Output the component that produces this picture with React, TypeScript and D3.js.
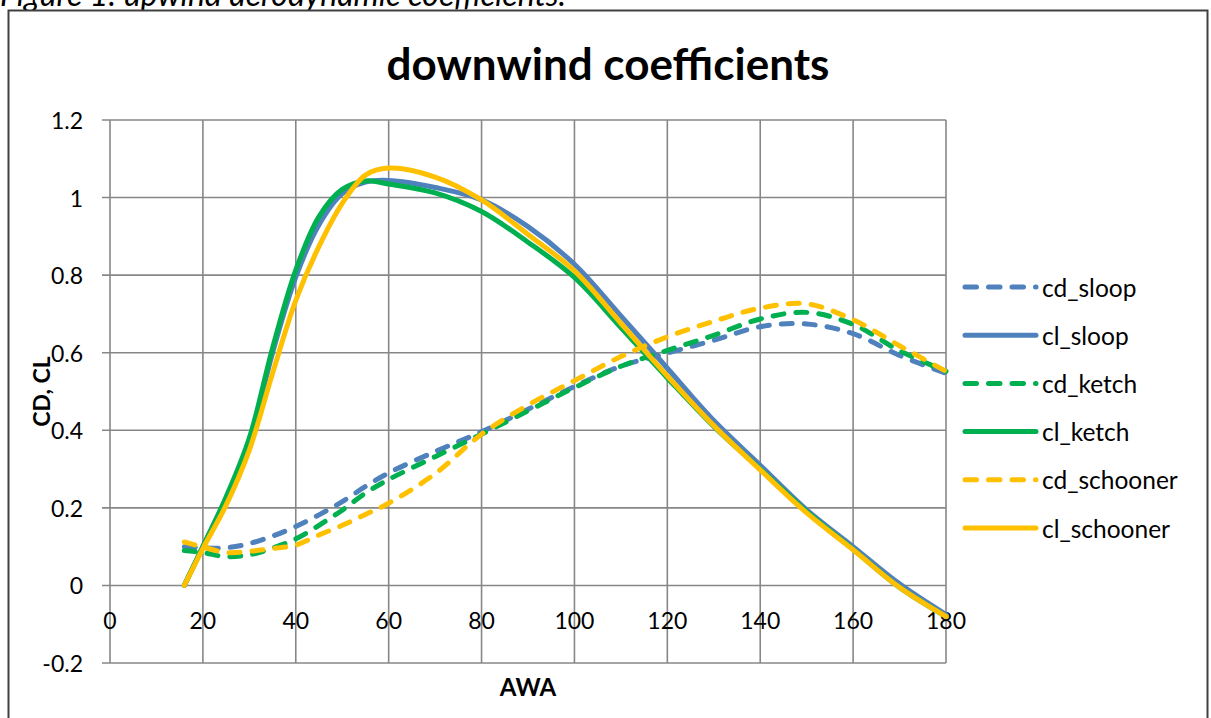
import React from "react";
import * as d3 from "d3";

const AWA = [16, 20, 25, 30, 35, 40, 45, 50, 55, 60, 70, 80, 90, 100, 110, 120, 130, 140, 150, 160, 170, 180];

const cdSloop = [0.1, 0.097, 0.097, 0.108, 0.127, 0.152, 0.182, 0.216, 0.255, 0.29, 0.345, 0.396, 0.454, 0.513, 0.565, 0.599, 0.632, 0.667, 0.674, 0.649, 0.593, 0.547];
const clSloop = [0, 0.1, 0.225, 0.37, 0.6, 0.795, 0.93, 1.01, 1.04, 1.044, 1.026, 0.994, 0.925, 0.828, 0.695, 0.56, 0.425, 0.31, 0.195, 0.1, 0.004, -0.075];
const cdKetch = [0.09, 0.085, 0.074, 0.079, 0.096, 0.12, 0.155, 0.194, 0.238, 0.273, 0.332, 0.39, 0.45, 0.51, 0.565, 0.606, 0.645, 0.687, 0.704, 0.673, 0.605, 0.552];
const clKetch = [0, 0.1, 0.228, 0.38, 0.612, 0.813, 0.951, 1.021, 1.043, 1.035, 1.012, 0.964, 0.885, 0.794, 0.665, 0.535, 0.41, 0.3, 0.19, 0.093, -0.005, -0.08];
const cdSchooner = [0.112, 0.099, 0.085, 0.088, 0.095, 0.104, 0.13, 0.155, 0.183, 0.212, 0.288, 0.39, 0.465, 0.528, 0.59, 0.641, 0.681, 0.715, 0.726, 0.685, 0.618, 0.552];
const clSchooner = [0, 0.095, 0.207, 0.349, 0.547, 0.735, 0.874, 0.985, 1.058, 1.076, 1.053, 0.994, 0.905, 0.811, 0.676, 0.54, 0.412, 0.298, 0.187, 0.092, -0.005, -0.08];

const seriesNames = ["cd_sloop", "cl_sloop", "cd_ketch", "cl_ketch", "cd_schooner", "cl_schooner"];
const seriesValues = [cdSloop, clSloop, cdKetch, clKetch, cdSchooner, clSchooner];
const seriesColors = ["#4F81BD", "#4F81BD", "#00B050", "#00B050", "#FFC000", "#FFC000"];
const seriesDashed = [true, false, true, false, true, false];

const xTicks = [0, 20, 40, 60, 80, 100, 120, 140, 160, 180];
const yTicks = [-0.2, 0, 0.2, 0.4, 0.6, 0.8, 1, 1.2];

const title = "downwind coefficients";
const caption = "Figure 1: upwind aerodynamic coefficients.";
const xTitle = "AWA";
const yTitle = "CD, CL";

export default function App() {
  const W = 1211;
  const H = 718;
  const left = 110, right = 946, top = 120, bottom = 663;
  const x = d3.scaleLinear().domain([0, 180]).range([left, right]);
  const y = d3.scaleLinear().domain([-0.2, 1.2]).range([bottom, top]);
  const line = d3
    .line<[number, number]>()
    .x((d) => x(d[0]))
    .y((d) => y(d[1]))
    .curve(d3.curveCatmullRom.alpha(0.5));
  const font = "Lato, 'Open Sans', sans-serif";
  const grid = "#878787";
  const fmt = (v: number) => String(+v.toFixed(1));
  const legendX1 = 965, legendX2 = 1036, legendY0 = 287, legendStep = 48.2;

  return (
    <svg width={W} height={H} style={{ position: "absolute", left: 0, top: 0, background: "#fff" }} fontFamily={font}>
      <rect x={0} y={0} width={W} height={H} fill="#fff" />
      <text x={0} y={6} fontSize={32} fontStyle="italic" fill="#000">{caption}</text>
      <rect x={8.5} y={10.5} width={1199} height={740} fill="#fff" stroke="#404040" strokeWidth={2} />
      <text x={608} y={80} fontSize={44} fontWeight="bold" textAnchor="middle" fill="#000">{title}</text>
      {/* gridlines */}
      {yTicks.map((t) => (
        <line key={"gy" + t} x1={left - 8} x2={right} y1={y(t)} y2={y(t)} stroke={grid} strokeWidth={1.6} />
      ))}
      {xTicks.map((t) => (
        <line key={"gx" + t} x1={x(t)} x2={x(t)} y1={top} y2={bottom} stroke={grid} strokeWidth={1.6} />
      ))}
      {/* y tick labels */}
      {yTicks.map((t) => (
        <text key={"ty" + t} x={83} y={y(t)} fontSize={23} textAnchor="end" dominantBaseline="central" fill="#000">{fmt(t)}</text>
      ))}
      {/* x tick labels */}
      {xTicks.map((t) => (
        <text key={"tx" + t} x={x(t)} y={620} fontSize={23} textAnchor="middle" dominantBaseline="central" fill="#000">{t}</text>
      ))}
      <text x={(left + right) / 2} y={686} fontSize={24} fontWeight="bold" textAnchor="middle" dominantBaseline="central">{xTitle}</text>
      <text transform={`translate(41,${(top + bottom) / 2}) rotate(-90)`} fontSize={23} fontWeight="bold" textAnchor="middle" dominantBaseline="central">{yTitle}</text>
      {/* series */}
      {seriesValues.map((vals, i) => (
        <path
          key={seriesNames[i]}
          d={line(AWA.map((a, j) => [a, vals[j]] as [number, number])) || ""}
          fill="none"
          stroke={seriesColors[i]}
          strokeWidth={5}
          strokeLinecap="round"
          strokeLinejoin="round"
          strokeDasharray={seriesDashed[i] ? "11,12" : undefined}
        />
      ))}
      {/* legend */}
      {seriesNames.map((n, i) => (
        <g key={"lg" + n}>
          <line
            x1={legendX1}
            x2={legendX2}
            y1={legendY0 + i * legendStep}
            y2={legendY0 + i * legendStep}
            stroke={seriesColors[i]}
            strokeWidth={5}
            strokeLinecap="round"
            strokeDasharray={seriesDashed[i] ? "11.5,12" : undefined}
          />
          <text x={1042} y={legendY0 + i * legendStep} fontSize={24.5} dominantBaseline="central" fill="#000">{n}</text>
        </g>
      ))}
    </svg>
  );
}
